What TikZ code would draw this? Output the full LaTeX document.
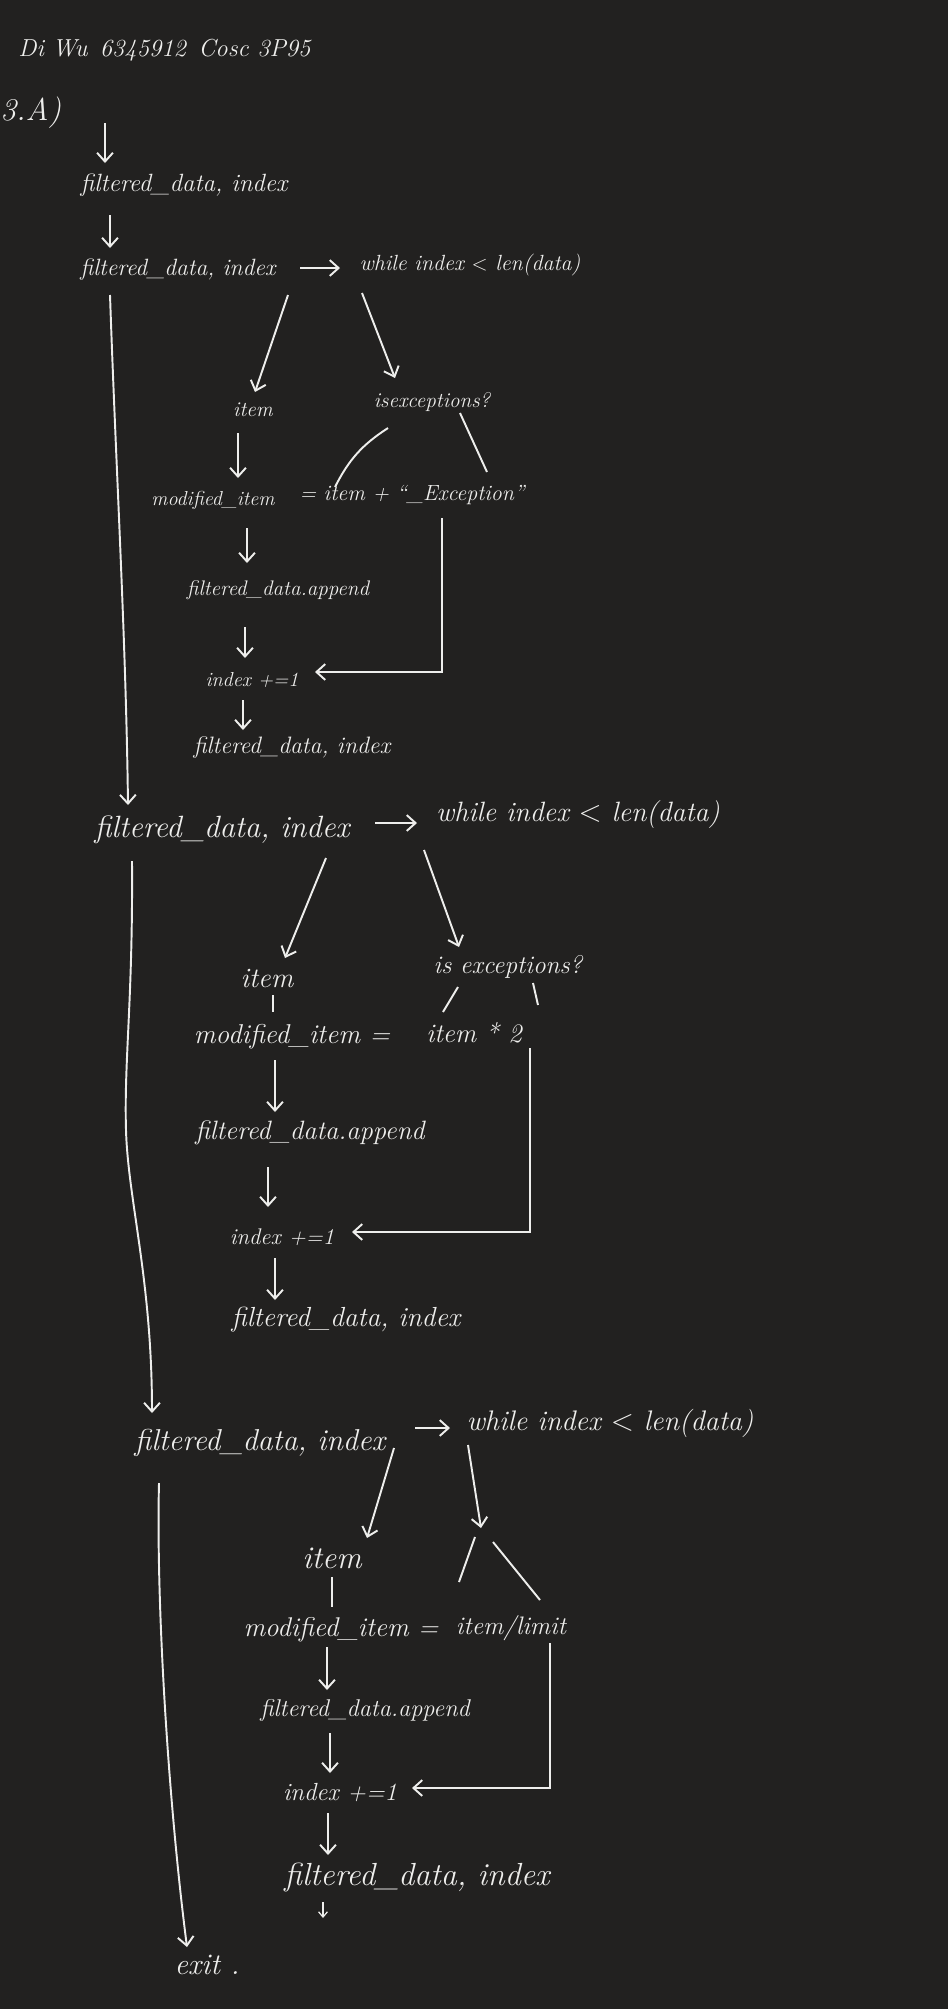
\documentclass[tikz,border=0pt]{standalone}
\usepackage{xcolor}
\usepackage{tikz}
\usetikzlibrary{arrows.meta}

\definecolor{board}{RGB}{34,33,32}
\definecolor{chalk}{RGB}{238,238,236}

\tikzset{
  hw/.style={text=chalk, inner sep=0pt, font=\fontsize{#1}{#1}\selectfont\itshape},
  flow/.style={draw=chalk, line width=1.1pt, -{Straight Barb[length=5pt,width=9pt]}},
  stroke/.style={draw=chalk, line width=1.1pt},
}

\begin{document}
\begin{tikzpicture}[x=0.02cm, y=-0.02cm]
        \fill[board] (0,0) rectangle (948,2009);
        \useasboundingbox (0,0) rectangle (948,2009);

        \node[hw=14, anchor=west] (hdr) at (18,50) {Di Wu\enspace 6345912\enspace Cosc 3P95};
        \node[hw=18, anchor=west] (part) at (0,113) {3.A)};
        \coordinate (top) at (105,123);

        % first loop
        \node[hw=14.2] (f1) at (184,185) {filtered\_data, index};
        \node[hw=13.4] (f2) at (178,270) {filtered\_data, index};
        \node[hw=12.5] (w1) at (470,265) {while index $<$ len(data)};
        \node[hw=12] (item1) at (253,410) {item};
        \node[hw=12] (ex1) at (432,402) {isexceptions?};
        \node[hw=11.5] (mod1) at (213,500) {modified\_item};
        \node[hw=12.5] (val1) at (412,495) {= item + ``\_Exception''};
        \node[hw=12] (app1) at (278,590) {filtered\_data.append};
        \node[hw=11.5] (idx1) at (252,680) {index +=1};
        \node[hw=13.5] (f1b) at (292,748) {filtered\_data, index};

        % second loop
        \node[hw=17.5] (f3) at (222,830) {filtered\_data, index};
        \node[hw=15.9] (w3) at (578,815) {while index $<$ len(data)};
        \node[hw=16] (item2) at (267,978) {item};
        \node[hw=14.4] (ex2) at (508,967) {is exceptions?};
        \node[hw=15.5] (mod2) at (292,1037) {modified\_item =};
        \node[hw=15.2] (val2) at (474,1033) {item * 2};
        \node[hw=15.1] (app2) at (310,1133) {filtered\_data.append};
        \node[hw=12.9] (idx2) at (282,1237) {index +=1};
        \node[hw=15.7] (f3b) at (346,1320) {filtered\_data, index};

        % third loop
        \node[hw=17.2] (f5) at (260,1443) {filtered\_data, index};
        \node[hw=16.1] (w5) at (610,1423) {while index $<$ len(data)};
        \node[hw=18] (item3) at (332,1558) {item};
        \coordinate (br3) at (481,1528);
        \node[hw=15.4] (mod3) at (341,1630) {modified\_item =};
        \node[hw=14.4] (val3) at (511,1628) {item/limit};
        \node[hw=13.8] (app3) at (365,1710) {filtered\_data.append};
        \node[hw=14.1] (idx3) at (340,1793) {index +=1};
        \node[hw=18.2] (f5b) at (417,1877) {filtered\_data, index};
        \coordinate (tail) at (323,1918);
        \node[hw=17] (ext) at (207,1965) {exit .};

        \draw[flow] (top) -- ([shift={(-79,-22)}]f1.center);
        \draw[flow] ([shift={(-74,30)}]f1.center) -- ([shift={(-68,-22)}]f2.center);
        \draw[flow] ([shift={(122,-2)}]f2.center) -- ([shift={(-130,3)}]w1.center);
        \draw[flow] ([shift={(-182,30)}]w1.center) -- ([shift={(2,-18)}]item1.center);
        \draw[flow] ([shift={(-108,28)}]w1.center) -- ([shift={(-37,-24)}]ex1.center);
        \draw[flow] ([shift={(-15,23)}]item1.center) -- ([shift={(25,-22)}]mod1.center);
        \draw[stroke] ([shift={(-44,26)}]ex1.center) to[bend right=15] ([shift={(-77,-8)}]val1.center);
        \draw[stroke] ([shift={(28,11)}]ex1.center) -- ([shift={(75,-23)}]val1.center);
        \draw[flow] ([shift={(34,28)}]mod1.center) -- ([shift={(-31,-27)}]app1.center);
        \draw[flow] ([shift={(-33,37)}]app1.center) -- ([shift={(-7,-22)}]idx1.center);
        \draw[flow] ([shift={(-9,20)}]idx1.center) -- ([shift={(-49,-18)}]f1b.center);
        \draw[flow] ([shift={(30,23)}]val1.center) |- ([shift={(63,-8)}]idx1.center);

        \draw[flow] ([shift={(-68,25)}]f2.center) .. controls (116,470) and (126,640) .. ([shift={(-94,-25)}]f3.center);

        \draw[flow] ([shift={(153,-7)}]f3.center) -- ([shift={(-161,8)}]w3.center);
        \draw[flow] ([shift={(-252,43)}]w3.center) -- ([shift={(18,-20)}]item2.center);
        \draw[flow] ([shift={(-154,35)}]w3.center) -- ([shift={(-49,-20)}]ex2.center);
        \draw[stroke] ([shift={(6,17)}]item2.center) -- ([shift={(-19,-25)}]mod2.center);
        \draw[stroke] ([shift={(-50,20)}]ex2.center) -- ([shift={(-31,-21)}]val2.center);
        \draw[stroke] ([shift={(25,16)}]ex2.center) -- ([shift={(64,-28)}]val2.center);
        \draw[flow] ([shift={(-17,23)}]mod2.center) -- ([shift={(-35,-21)}]app2.center);
        \draw[flow] ([shift={(-42,34)}]app2.center) -- ([shift={(-14,-30)}]idx2.center);
        \draw[flow] ([shift={(-7,21)}]idx2.center) -- ([shift={(-71,-20)}]f3b.center);
        \draw[flow] ([shift={(56,15)}]val2.center) |- ([shift={(70,-5)}]idx2.center);

        \draw[flow] ([shift={(-90,31)}]f3.center) .. controls (133,1000) and (124,1060) .. (126,1130)
            .. controls (128,1200) and (152,1280) .. ([shift={(-108,-30)}]f5.center);

        \draw[flow] ([shift={(155,-15)}]f5.center) -- ([shift={(-160,5)}]w5.center);
        \draw[flow] ([shift={(-216,25)}]w5.center) -- ([shift={(35,-20)}]item3.center);
        \draw[flow] ([shift={(-142,22)}]w5.center) -- (br3);
        \draw[stroke] ([shift={(-6,9)}]br3) -- ([shift={(-52,-46)}]val3.center);
        \draw[stroke] ([shift={(12,14)}]br3) -- ([shift={(29,-28)}]val3.center);
        \draw[stroke] ([shift={(0,19)}]item3.center) -- ([shift={(-9,-23)}]mod3.center);
        \draw[flow] ([shift={(-14,17)}]mod3.center) -- ([shift={(-38,-20)}]app3.center);
        \draw[flow] ([shift={(-35,23)}]app3.center) -- ([shift={(-10,-20)}]idx3.center);
        \draw[flow] ([shift={(-12,20)}]idx3.center) -- ([shift={(-89,-22)}]f5b.center);
        \draw[flow] ([shift={(39,15)}]val3.center) |- ([shift={(72,-5)}]idx3.center);
        \draw[stroke, -{Straight Barb[length=3pt,width=5pt]}, line width=0.7pt] ([shift={(-94,25)}]f5b.center) -- (tail);

        \draw[flow] ([shift={(-101,40)}]f5.center) .. controls (156,1600) and (168,1800) .. ([shift={(-20,-18)}]ext.center);
\end{tikzpicture}
\end{document}
